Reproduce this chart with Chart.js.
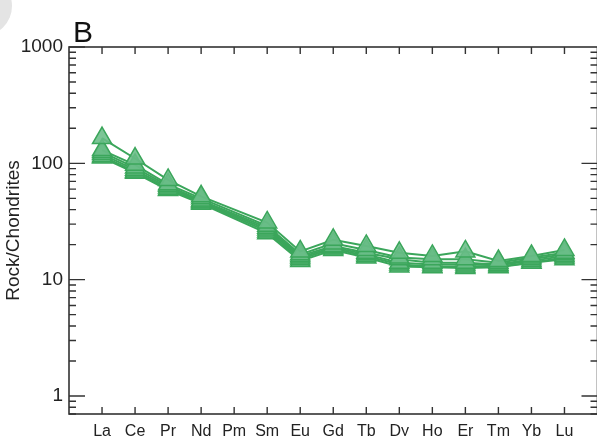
<!DOCTYPE html>
<html>
<head>
<meta charset="UTF-8" />
<title>REE pattern B</title>
<script src="https://cdn.jsdelivr.net/npm/chart.js"></script>
<style>
  html, body { margin: 0; padding: 0; background: #fff; overflow: hidden; }
  #wrap { position: relative; width: 610px; height: 436px; }
  .blob {
    position: absolute; left: -48px; top: -24px; width: 60px; height: 60px;
    border-radius: 50%; background: #e4e4e4;
  }
</style>
</head>
<body>
<div id="wrap">
  <div class="blob"></div>
  <canvas id="ree" width="610" height="436"></canvas>
</div>
<script>
// elements in chondrite-normalised order (Pm has no data)
const elements = ["La", "Ce", "Pr", "Nd", "Pm", "Sm", "Eu", "Gd", "Tb", "Dy", "Ho", "Er", "Tm", "Yb", "Lu"];
const sample1 = [165, 110, 72, 52, null, 31, 17.5, 22, 19.5, 17, 16, 17.5, 14.5, 16, 18];
const sample2 = [130, 97, 66, 50, null, 29, 16.5, 20.5, 18, 15.5, 15, 15, 14, 15.5, 17];
const sample3 = [125, 92, 64, 48, null, 28, 16, 19.5, 17, 15, 14, 14, 13.5, 15, 16.5];
const sample4 = [120, 88, 62, 47, null, 27, 15.5, 19, 16.5, 14, 13.5, 13.5, 13.3, 14.5, 16];
const sample5 = [115, 85, 60, 46, null, 26, 15, 18.5, 16, 13.5, 13, 13, 13, 14, 15.5];
const sample6 = [112, 83, 59, 45, null, 25, 14.5, 18, 15.5, 13, 12.8, 12.6, 12.8, 14, 15];
const yTickLabels = [1, 10, 100, 1000];

const samples = [sample1, sample2, sample3, sample4, sample5, sample6];

const datasets = samples.map((s, k) => ({
  label: "sample " + (k + 1),
  data: s.map((v, i) => ({ x: i + 1, y: v })),
  borderColor: "#3ba65b",
  borderWidth: 2,
  pointStyle: "triangle",
  pointRadius: 11,
  pointBackgroundColor: "rgba(106,189,136,0.88)",
  pointBorderColor: "#3ba65b",
  pointBorderWidth: 1.5,
  spanGaps: true,
  tension: 0
}));

// frame + inward ticks on all four sides
const framePlugin = {
  id: "frame",
  afterDatasetsDraw(chart) {
    const { ctx, chartArea: a, scales } = chart;
    const xs = scales.x, ys = scales.y;
    ctx.save();
    ctx.strokeStyle = "#333";
    ctx.lineWidth = 1.6;
    ctx.strokeRect(a.left, a.top, a.right - a.left, a.bottom - a.top);
    ctx.lineWidth = 1.4;
    ctx.beginPath();
    elements.forEach((e, i) => {
      const px = xs.getPixelForValue(i + 1);
      ctx.moveTo(px, a.bottom); ctx.lineTo(px, a.bottom - 7);
      ctx.moveTo(px, a.top); ctx.lineTo(px, a.top + 7);
    });
    for (let d = 0.1; d <= 100; d *= 10) {
      for (let m = 1; m <= 9; m++) {
        const v = +(d * m).toPrecision(3);
        if (v < ys.min || v > ys.max) continue;
        const py = ys.getPixelForValue(v);
        const len = m === 1 ? 16 : 7;
        ctx.moveTo(a.left, py); ctx.lineTo(a.left + len, py);
        ctx.moveTo(a.right, py); ctx.lineTo(a.right - len, py);
      }
    }
    const top = ys.getPixelForValue(1000);
    ctx.moveTo(a.left, top); ctx.lineTo(a.left + 16, top);
    ctx.stroke();
    // panel letter
    ctx.fillStyle = "#111";
    ctx.font = "30px 'Liberation Sans', Arial, sans-serif";
    ctx.textBaseline = "alphabetic";
    ctx.fillText("B", 73, 42);
    ctx.restore();
  }
};

new Chart(document.getElementById("ree").getContext("2d"), {
  type: "line",
  data: { datasets },
  options: {
    responsive: false,
    animation: false,
    layout: { padding: { left: 0, top: 47, right: 7, bottom: 0 } },
    plugins: { legend: { display: false }, tooltip: { enabled: false } },
    scales: {
      x: {
        type: "linear",
        min: 0,
        max: 16,
        grid: { display: false, drawTicks: false },
        border: { display: false },
        afterBuildTicks(scale) {
          scale.ticks = elements.map((e, i) => ({ value: i + 1 }));
        },
        afterFit(scale) { scale.height = 22; },
        ticks: {
          autoSkip: false,
          maxRotation: 0,
          padding: 8,
          color: "#222",
          font: { family: "'Liberation Sans', Arial, sans-serif", size: 16 },
          callback: (v) => elements[v - 1]
        }
      },
      y: {
        type: "logarithmic",
        min: 0.7,
        max: 1000,
        grid: { display: false, drawTicks: false },
        border: { display: false },
        afterBuildTicks(scale) {
          scale.ticks = yTickLabels.map(v => ({ value: v }));
        },
        afterFit(scale) { scale.width = 69; },
        ticks: {
          padding: 6,
          color: "#222",
          font: { family: "'Liberation Sans', Arial, sans-serif", size: 19 },
          callback: (v) => String(v)
        },
        title: {
          display: true,
          text: "Rock/Chondrites",
          color: "#222",
          padding: { top: 2, bottom: 0 },
          font: { family: "'Liberation Sans', Arial, sans-serif", size: 19 }
        }
      }
    }
  },
  plugins: [framePlugin]
});
</script>
</body>
</html>
